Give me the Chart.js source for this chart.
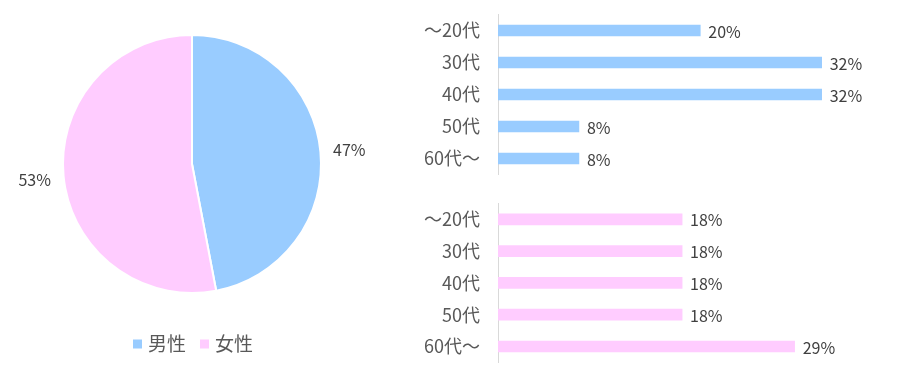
<!DOCTYPE html>
<html lang="ja">
<head>
<meta charset="utf-8">
<script src="https://cdn.jsdelivr.net/npm/chart.js@4"></script>
<style>
  html, body { margin: 0; padding: 0; background: #ffffff; }
  #wrap { position: relative; width: 900px; height: 372px; overflow: hidden; }
  canvas { position: absolute; }
  #genderChart { left: 0; top: 0; }
  #maleChart { left: 400px; top: 0; }
  #femaleChart { left: 400px; top: 186px; }
</style>
</head>
<body>
<div id="wrap">
  <canvas id="genderChart" width="400" height="372"></canvas>
  <canvas id="maleChart" width="500" height="186"></canvas>
  <canvas id="femaleChart" width="500" height="186"></canvas>
</div>
<script>
/* ============================
   Data
============================ */
const genderLabels = ['男性', '女性'];
const genderValues = [47, 53];

const ageLabels = ['～20代', '30代', '40代', '50代', '60代～'];
const maleAgeValues = [20, 32, 32, 8, 8];
const femaleAgeValues = [18, 18, 18, 18, 29];

/* ============================
   Styles
============================ */
const blue = '#99CCFF';
const pink = '#FFCCFF';
const fontFamily = '"Noto Sans CJK JP", "Noto Sans", sans-serif';
const valueColor = '#404040';
const labelColor = '#595959';

/* ============================
   Pie: outside percent labels + legend
============================ */
const pieLabelPlugin = {
    id: 'pieLabels',
    afterDatasetsDraw(chart) {
        const ctx = chart.ctx;
        const meta = chart.getDatasetMeta(0);
        ctx.save();
        ctx.font = '16px ' + fontFamily;
        ctx.fillStyle = valueColor;
        ctx.textAlign = 'center';
        ctx.textBaseline = 'middle';
        meta.data.forEach((arc, i) => {
            const mid = (arc.startAngle + arc.endAngle) / 2;
            const r = arc.outerRadius + 29;
            ctx.fillText(genderValues[i] + '%', arc.x + Math.cos(mid) * r, arc.y + Math.sin(mid) * r + 1);
        });
        ctx.restore();
    },
    afterDraw(chart) {
        const ctx = chart.ctx;
        const area = chart.chartArea;
        const colors = chart.data.datasets[0].backgroundColor;
        const box = 9, gap = 6, itemGap = 14;
        ctx.save();
        ctx.font = '19px ' + fontFamily;
        const widths = genderLabels.map(l => ctx.measureText(l).width);
        const total = widths.reduce((a, w) => a + box + gap + w, 0) + itemGap * (widths.length - 1);
        let x = (area.left + area.right) / 2 - total / 2 + 1;
        const y = 344;
        ctx.textBaseline = 'middle';
        genderLabels.forEach((l, i) => {
            ctx.fillStyle = colors[i];
            ctx.fillRect(x, y - box / 2, box, box);
            x += box + gap;
            ctx.fillStyle = labelColor;
            ctx.fillText(l, x, y);
            x += widths[i] + itemGap;
        });
        ctx.restore();
    }
};

new Chart(document.getElementById('genderChart').getContext('2d'), {
    type: 'pie',
    data: {
        labels: genderLabels,
        datasets: [{
            data: genderValues,
            backgroundColor: [blue, pink],
            borderColor: '#ffffff',
            borderWidth: 2
        }]
    },
    options: {
        responsive: false,
        animation: false,
        layout: { padding: { left: 62, right: 78, top: 34, bottom: 78 } },
        plugins: {
            legend: { display: false },
            tooltip: { enabled: false }
        }
    },
    plugins: [pieLabelPlugin]
});

/* ============================
   Bars: value labels
============================ */
const barValuePlugin = {
    id: 'barValues',
    afterDatasetsDraw(chart) {
        const ctx = chart.ctx;
        const meta = chart.getDatasetMeta(0);
        const values = chart.data.datasets[0].data;
        ctx.save();
        ctx.font = '16px ' + fontFamily;
        ctx.fillStyle = valueColor;
        ctx.textAlign = 'left';
        ctx.textBaseline = 'middle';
        meta.data.forEach((bar, i) => {
            ctx.fillText(values[i] + '%', bar.x + 8, bar.y + 1);
        });
        ctx.restore();
    }
};

function buildAgeChart(canvasId, values, color, xMax, padding) {
    return new Chart(document.getElementById(canvasId).getContext('2d'), {
        type: 'bar',
        data: {
            labels: ageLabels,
            datasets: [{
                data: values,
                backgroundColor: color,
                barThickness: 11
            }]
        },
        options: {
            indexAxis: 'y',
            responsive: false,
            animation: false,
            layout: { padding: padding },
            scales: {
                x: { display: false, min: 0, max: xMax },
                y: {
                    afterFit(scale) { scale.width = 98; },
                    grid: { display: false, drawTicks: true, tickLength: 18 },
                    border: { display: true, color: '#d9d9d9', width: 1 },
                    ticks: {
                        padding: 0,
                        color: labelColor,
                        font: { family: fontFamily, size: 18, lineHeight: 1 }
                    }
                }
            },
            plugins: {
                legend: { display: false },
                tooltip: { enabled: false }
            }
        },
        plugins: [barValuePlugin]
    });
}

buildAgeChart('maleChart', maleAgeValues, blue, 35, { top: 14.5, bottom: 11.5, left: 0, right: 48 });
buildAgeChart('femaleChart', femaleAgeValues, pink, 35, { top: 17.4, bottom: 9.6, left: 0, right: 44 });
</script>
</body>
</html>
